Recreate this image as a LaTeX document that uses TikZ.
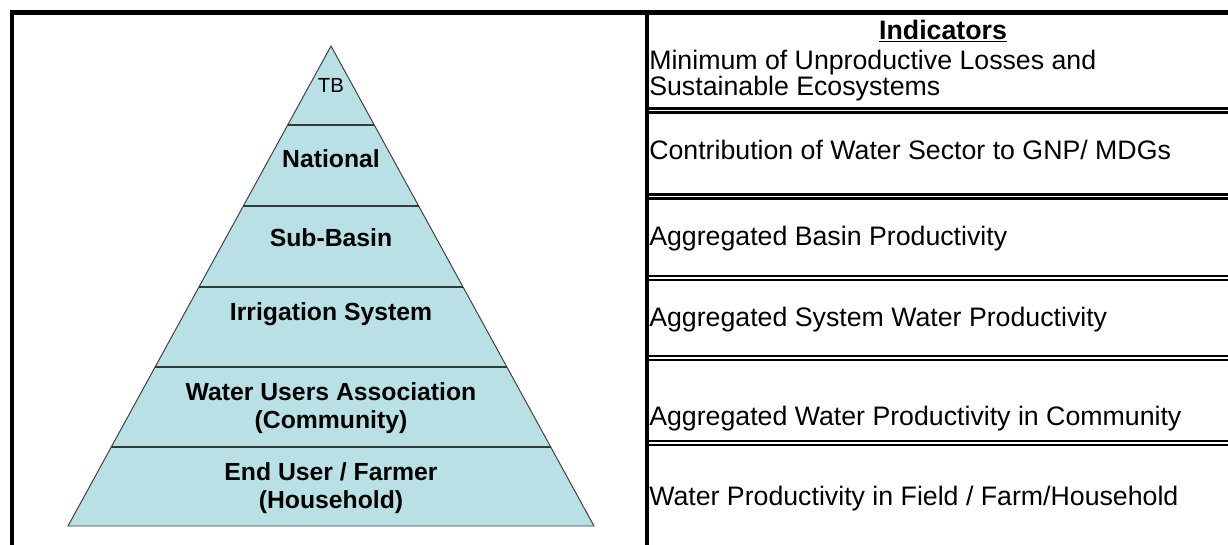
\documentclass[tikz,border=0pt]{standalone}
\usepackage{xcolor}
\usepackage{fontspec}
\setmainfont{Liberation Sans}
\usepackage{tikz}
\usetikzlibrary{positioning, calc}
\definecolor{pyramidblue}{HTML}{B9E0E4}
\definecolor{bandgray}{HTML}{333A3A}
\definecolor{edgegray}{HTML}{404040}

\begin{document}
\begin{tikzpicture}[x=0.025cm, y=-0.025cm,
    frame/.style={black, line width=3.3pt},
    rule/.style={black, line width=1.6pt},
    bandline/.style={bandgray, line width=1.1pt},
    levelbold/.style={inner sep=0pt, font=\fontsize{17.6}{19.9}\selectfont\bfseries, align=center},
    indtext/.style={inner sep=0pt, font=\fontsize{19}{18.2}\selectfont\setlength\lineskiplimit{-20pt}, align=left}]
  \useasboundingbox (0,0) rectangle (1228,545);

  % Outer frame and column divider
  \draw[frame] (10,12.5) -- (1228,12.5);
  \draw[frame] (12,10) -- (12,545);
  \draw[frame] (647,10) -- (647,545);

  % Double rules between indicator rows
  \foreach \y in {110.5,196.5,278,358,443} {
    \draw[rule] (649,\y-2) -- (1228,\y-2);
    \draw[rule] (649,\y+2) -- (1228,\y+2);
  }

  % Pyramid
  \coordinate (apex) at (331,46);
  \coordinate (baseL) at (68,526);
  \coordinate (baseR) at (594,526);
  \fill[pyramidblue] (apex) -- (baseL) -- (baseR) -- cycle;
  \draw[edgegray, line width=0.7pt] (apex) -- (baseL) -- (baseR) -- cycle;
  % Band separators
  \foreach \y in {125,206,287,367,447} {
    \pgfmathsetmacro{\hw}{(\y-46)/480*263}
    \draw[bandline] (331-\hw,\y) -- (331+\hw,\y);
  }

  % Level labels
  \node[inner sep=0pt, font=\fontsize{14.5}{16}\selectfont, anchor=base] (tb) at (331,92) {TB};
  \node[levelbold, anchor=base] (national) at (331,167) {National};
  \node[levelbold, anchor=base] (subbasin) at (331,246) {Sub-Basin};
  \node[levelbold, anchor=base] (irrigation) at (331,320) {Irrigation System};
  \node[levelbold] (wua) at (331,408.5) {Water Users Association\\(Community)};
  \node[levelbold] (enduser) at (331,488) {End User / Farmer\\(Household)};

  % Indicators column
  \node[inner sep=0pt, font=\fontsize{19}{20}\selectfont\bfseries, anchor=base] (head) at (943,39.5) {\underline{Indicators}};
  \node[indtext, anchor=west] (ind1) at (649,75.5) {Minimum of Unproductive Losses and\\Sustainable Ecosystems};
  \node[indtext, anchor=base west] (ind2) at (649,159) {Contribution of Water Sector to GNP/ MDGs};
  \node[indtext, anchor=base west] (ind3) at (649,245) {Aggregated Basin Productivity};
  \node[indtext, anchor=base west] (ind4) at (649,326.5) {Aggregated System Water Productivity};
  \node[indtext, anchor=base west] (ind5) at (649,425) {Aggregated Water Productivity in Community};
  \node[indtext, anchor=base west] (ind6) at (649,505.5) {Water Productivity in Field / Farm/Household};
\end{tikzpicture}
\end{document}
